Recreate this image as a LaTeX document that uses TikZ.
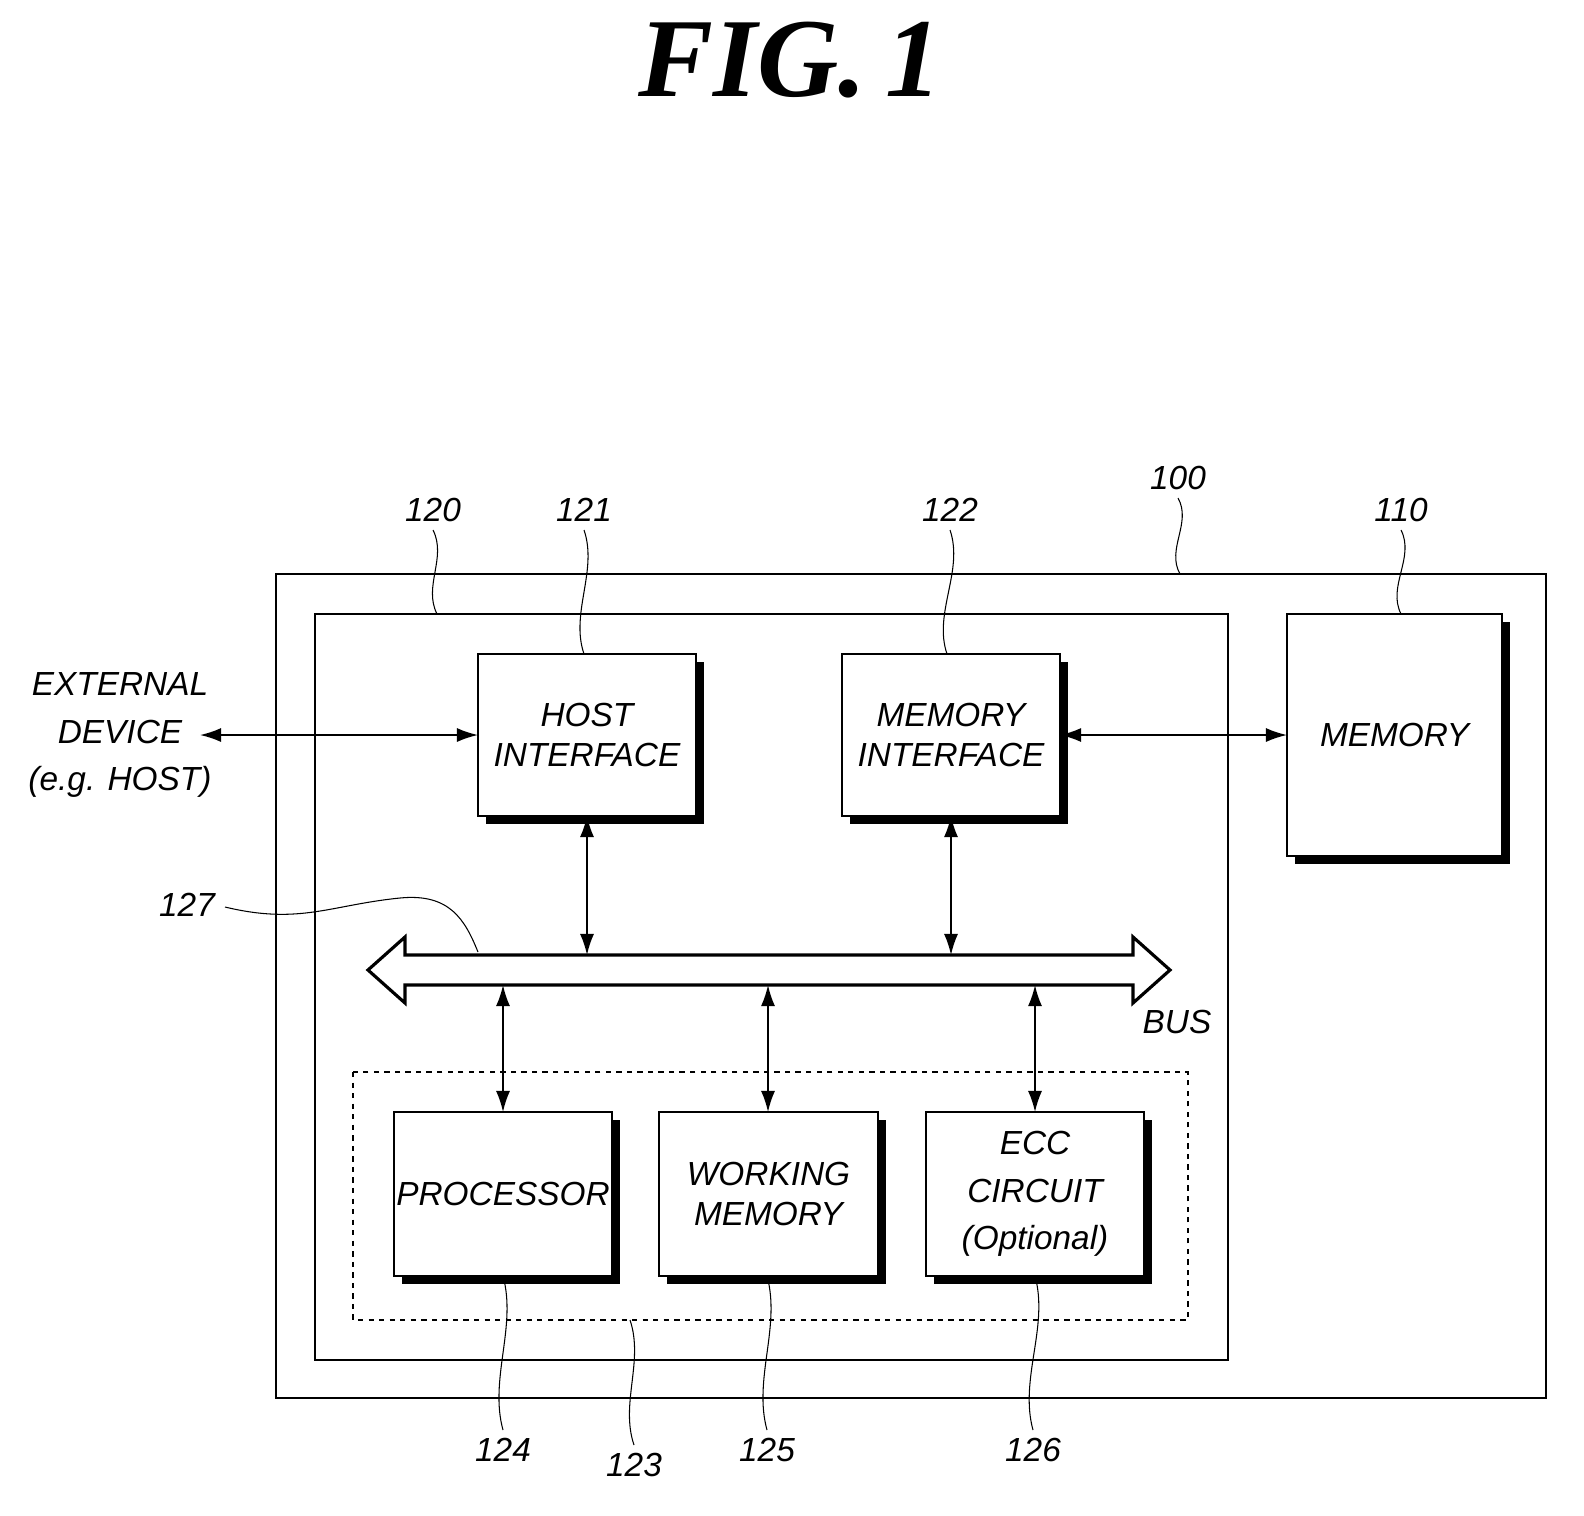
\documentclass[tikz,border=0pt]{standalone}
\usepackage{fontspec}
\setmainfont{Liberation Sans}
\newfontfamily\titlefont{Liberation Serif}
\usetikzlibrary{arrows.meta}
\begin{document}
\begin{tikzpicture}[x=0.02cm,y=-0.02cm,
 txt/.style={font=\itshape\fontsize{19}{23}\selectfont,align=center,inner sep=0},
 num/.style={font=\itshape\fontsize{19}{22}\selectfont,inner sep=0},
 blk/.style={draw,line width=1.6pt,fill=white},
 shd/.style={fill=black},
 arr/.style={{Latex[length=12pt,width=8pt]}-{Latex[length=12pt,width=8pt]},line width=1pt},
 lead/.style={line width=0.6pt}]
\useasboundingbox (0,0) rectangle (1584,1515);
\node[font=\titlefont\bfseries\itshape\fontsize{64}{70}\selectfont,inner sep=0] (title) at (790,60) {FIG.\,1};
\draw[line width=1.6pt] (276,574) rectangle (1546,1398);
\draw[line width=1.6pt] (315,614) rectangle (1228,1360);
\draw[dashed,line width=0.8pt] (353,1072) rectangle (1188,1320);
\newcommand{\sblk}[5]{\fill[shd] (#1+8,#2+8) rectangle (#3+8,#4+8);
 \node[blk,minimum width={(#3-#1)*0.02cm},minimum height={(#4-#2)*0.02cm}] (#5) at ({(#1+#3)/2},{(#2+#4)/2}) {};}
\sblk{478}{654}{696}{816}{host}
\sblk{842}{654}{1060}{816}{memif}
\sblk{1287}{614}{1502}{856}{mem}
\sblk{394}{1112}{612}{1276}{proc}
\sblk{659}{1112}{878}{1276}{work}
\sblk{926}{1112}{1144}{1276}{ecc}
\node[txt] at (host) {HOST\\INTERFACE};
\node[txt] at (memif) {MEMORY\\INTERFACE};
\node[txt] at (mem) {MEMORY};
\node[txt] at (proc) {PROCESSOR};
\node[txt] at (work) {WORKING\\MEMORY};
\node[txt,font=\itshape\fontsize{19}{27}\selectfont] at (ecc) {ECC\\CIRCUIT\\(Optional)};
\node[txt,font=\itshape\fontsize{19}{27}\selectfont] (ext) at (120,735) {EXTERNAL\\DEVICE\\(e.g. HOST)};
\draw[line width=1.8pt,fill=white] (368,970)--(405,937)--(405,955)--(1133,955)--(1133,937)--(1170,970)--(1133,1003)--(1133,985)--(405,985)--(405,1003)--cycle;
\coordinate (e1) at (200,735); \coordinate (h1) at (478,735);
\coordinate (m1) at (1060,735); \coordinate (m2) at (1287,735);
\draw[arr] (e1)--(h1);
\draw[arr] (m1)--(m2);
\coordinate (b1) at (587,955); \coordinate (b2) at (951,955);
\draw[arr] (587,816)--(b1);
\draw[arr] (951,816)--(b2);
\draw[arr] (503,985)--(503,1112);
\draw[arr] (768,985)--(768,1112);
\draw[arr] (1035,985)--(1035,1112);
\node[txt] at (1177,1022) {BUS};
\node[num] (n120) at (433,510) {120};
\node[num] (n121) at (584,510) {121};
\node[num] (n122) at (950,510) {122};
\node[num] (n100) at (1178,478) {100};
\node[num] (n110) at (1401,510) {110};
\node[num] (n127) at (187,905) {127};
\node[num] (n124) at (503,1450) {124};
\node[num] (n123) at (634,1465) {123};
\node[num] (n125) at (767,1450) {125};
\node[num] (n126) at (1033,1450) {126};
\newcommand{\wv}[4]{\draw[lead] (#1,#2) .. controls ({#1+14},{#2+(#4-#2)*0.33}) and ({#3-14},{#2+(#4-#2)*0.67}) .. (#3,#4);}
\wv{433}{530}{437}{614}
\wv{584}{530}{584}{654}
\wv{950}{530}{947}{654}
\wv{1178}{498}{1180}{574}
\wv{1401}{530}{1401}{614}
\wv{503}{1276}{503}{1430}
\wv{630}{1320}{634}{1445}
\wv{767}{1276}{767}{1430}
\wv{1035}{1276}{1033}{1430}
\draw[lead] (225,907) .. controls (300,925) and (330,905) .. (400,898) .. controls (450,893) and (465,920) .. (478,952);
\end{tikzpicture}
\end{document}
